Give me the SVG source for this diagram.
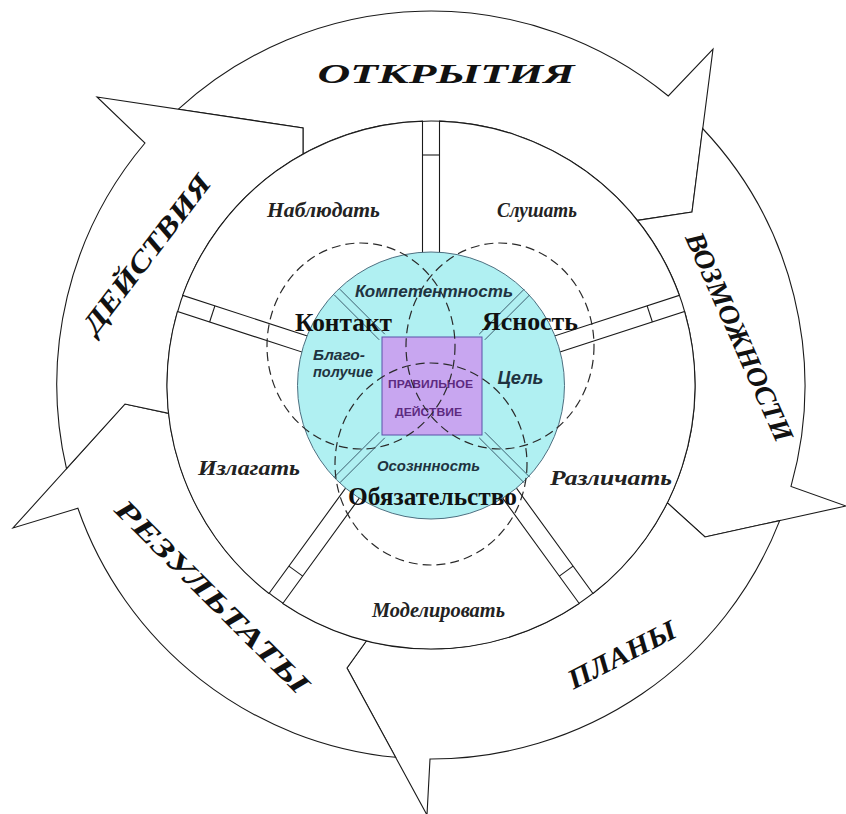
<svg xmlns="http://www.w3.org/2000/svg" width="846" height="814" viewBox="0 0 846 814">
<style>
.arrow{fill:#ffffff;stroke:#1a1a1a;stroke-width:1.1;stroke-linejoin:miter}
.sector{fill:#ffffff;stroke:#1a1a1a;stroke-width:1.1}
.tick{stroke:#1a1a1a;stroke-width:1.1;fill:none}
.dash{fill:none;stroke:#2a2a2a;stroke-width:1.2;stroke-dasharray:9 5}
.diag{stroke:#3c5f70;stroke-width:1;fill:none}
.big{font-family:"Liberation Serif",serif;font-weight:bold;font-style:italic;font-size:28px;fill:#111}
.act{font-family:"Liberation Serif",serif;font-weight:bold;font-style:italic;font-size:20px;fill:#222}
.key{font-family:"Liberation Serif",serif;font-weight:bold;font-size:25px;fill:#111}
.inn{font-family:"Liberation Sans",Arial,sans-serif;font-weight:bold;font-style:italic;fill:#1f3340}
.core{font-family:"Liberation Sans",Arial,sans-serif;font-weight:bold;font-size:11.5px;fill:#5d2a80}
</style>
<rect x="0" y="0" width="846" height="814" fill="#ffffff"/>

<g id="arrow-otkrytiya">
<path class="arrow" d="M178.4,109.2 A374,374 0 0 1 668.3,96 L713,49 L692,212 L637.4,220.4 A264,264 0 0 0 303,154.1 L303,128 Z"/>
<text class="big" x="446" y="83" text-anchor="middle" textLength="257" lengthAdjust="spacingAndGlyphs">ОТКРЫТИЯ</text>
</g>
<g id="arrow-vozmozhnosti">
<path class="arrow" d="M702.6,128.5 A374,374 0 0 1 791,486.4 L846,506 L705,537 L667.2,502.7 A264,264 0 0 0 637.4,220.4 L692,212 Z"/>
<text class="big" transform="translate(739,337) rotate(66)" x="0" y="9" text-anchor="middle" font-size="26" textLength="226" lengthAdjust="spacingAndGlyphs">ВОЗМОЖНОСТИ</text>
</g>
<g id="arrow-plany">
<path class="arrow" d="M779.7,520.6 A374,374 0 0 1 430,759 L427,815 L347,668 L366.5,640.7 A264,264 0 0 0 667.2,502.7 L705,537 Z"/>
<text class="big" transform="translate(622,655) rotate(-27)" x="0" y="9" text-anchor="middle" textLength="118" lengthAdjust="spacingAndGlyphs">ПЛАНЫ</text>
</g>
<g id="arrow-rezultaty">
<path class="arrow" d="M395.6,757.3 A374,374 0 0 1 77.9,508.3 L13,528 L125,404 L168.7,413.4 A264,264 0 0 0 366.5,640.7 L347,668 Z"/>
<text class="big" transform="translate(212,597) rotate(45)" x="0" y="9" text-anchor="middle" textLength="262" lengthAdjust="spacingAndGlyphs">РЕЗУЛЬТАТЫ</text>
</g>
<g id="arrow-deystviya">
<path class="arrow" d="M66.5,468.7 A374,374 0 0 1 145,143 L97,97 L303,128 L303,154.1 A264,264 0 0 0 168.7,413.4 L125,404 Z"/>
<text class="big" transform="translate(147,254) rotate(-52.5)" x="0" y="9" text-anchor="middle" textLength="192" lengthAdjust="spacingAndGlyphs">ДЕЙСТВИЯ</text>
</g>

<g id="sector-slushat">
<path class="sector" d="M439.5,252.3 L439.5,121.1 A264,264 0 0 1 679.36,295.37 L554.58,335.92 Z"/>
<text class="act" x="537" y="217" text-anchor="middle" textLength="80" lengthAdjust="spacingAndGlyphs">Слушать</text>
</g>
<g id="sector-razlichat">
<path class="sector" d="M559.84,352.08 L684.62,311.53 A264,264 0 0 1 593,593.5 L515.88,487.36 Z"/>
<text class="act" x="611" y="485" text-anchor="middle" textLength="122" lengthAdjust="spacingAndGlyphs">Различать</text>
</g>
<g id="sector-modelirovat">
<path class="sector" d="M502.12,497.36 L579.24,603.5 A264,264 0 0 1 282.76,603.5 L359.88,497.36 Z"/>
<text class="act" x="438.5" y="617" text-anchor="middle" textLength="133" lengthAdjust="spacingAndGlyphs">Моделировать</text>
</g>
<g id="sector-izlagat">
<path class="sector" d="M346.12,487.36 L269,593.5 A264,264 0 0 1 177.38,311.53 L302.16,352.08 Z"/>
<text class="act" x="249" y="475" text-anchor="middle" textLength="102" lengthAdjust="spacingAndGlyphs">Излагать</text>
</g>
<g id="sector-nablyudat">
<path class="sector" d="M307.42,335.92 L182.64,295.37 A264,264 0 0 1 422.5,121.1 L422.5,252.3 Z"/>
<text class="act" x="323.5" y="217" text-anchor="middle" textLength="113" lengthAdjust="spacingAndGlyphs">Наблюдать</text>
</g>

<g id="dividers">
<path class="tick" d="M422.5,155 L439.5,155"/>
<path class="tick" d="M214.88,305.85 L209.62,322.01"/>
<path class="tick" d="M652.38,322.01 L647.12,305.85"/>
<path class="tick" d="M288.93,566.07 L302.69,576.07"/>
<path class="tick" d="M559.31,576.07 L573.07,566.07"/>
</g>

<g id="core-circle">
<circle cx="431" cy="385.5" r="133.5" fill="#b0f0f2" stroke="#4d6f80" stroke-width="1"/>
<path class="diag" d="M384.8,334.2 L339.8,289.2 M379.2,339.8 L334.2,294.8 M479.2,334.2 L524.2,289.2 M484.8,339.8 L529.8,294.8 M379.2,432.2 L334.2,477.2 M384.8,437.8 L339.8,482.8 M479.2,437.8 L524.2,482.8 M484.8,432.2 L529.8,477.2"/>
</g>

<g id="core-square">
<rect x="382" y="337" width="100" height="98" fill="#c8a6f0" stroke="#5a50a8" stroke-width="1"/>
<text class="core" x="430.5" y="388" text-anchor="middle" textLength="85" lengthAdjust="spacingAndGlyphs">ПРАВИЛЬНОЕ</text>
<text class="core" x="428.5" y="416" text-anchor="middle" textLength="67" lengthAdjust="spacingAndGlyphs">ДЕЙСТВИЕ</text>
</g>

<g id="venn-circles">
<ellipse class="dash" cx="361" cy="346" rx="94" ry="103"/>
<ellipse class="dash" cx="500" cy="346" rx="94" ry="103"/>
<ellipse class="dash" cx="431" cy="464" rx="96" ry="101"/>
</g>

<g id="core-labels">
<text class="inn" x="434" y="297" font-size="16.5" text-anchor="middle" textLength="158" lengthAdjust="spacingAndGlyphs">Компетентность</text>
<text class="key" x="343.5" y="331" text-anchor="middle" textLength="97" lengthAdjust="spacingAndGlyphs">Контакт</text>
<text class="key" x="530" y="330" text-anchor="middle" textLength="96" lengthAdjust="spacingAndGlyphs">Ясность</text>
<text class="inn" x="313" y="360" font-size="14" textLength="52" lengthAdjust="spacingAndGlyphs">Благо-</text>
<text class="inn" x="313" y="377" font-size="14" textLength="60" lengthAdjust="spacingAndGlyphs">получие</text>
<text class="inn" x="520.5" y="384" font-size="18" text-anchor="middle" textLength="46" lengthAdjust="spacingAndGlyphs">Цель</text>
<text class="inn" x="428.5" y="471" font-size="15" text-anchor="middle" textLength="103" lengthAdjust="spacingAndGlyphs">Осозннность</text>
<text class="key" x="432.5" y="505" text-anchor="middle" textLength="169" lengthAdjust="spacingAndGlyphs">Обязательство</text>
</g>
</svg>
